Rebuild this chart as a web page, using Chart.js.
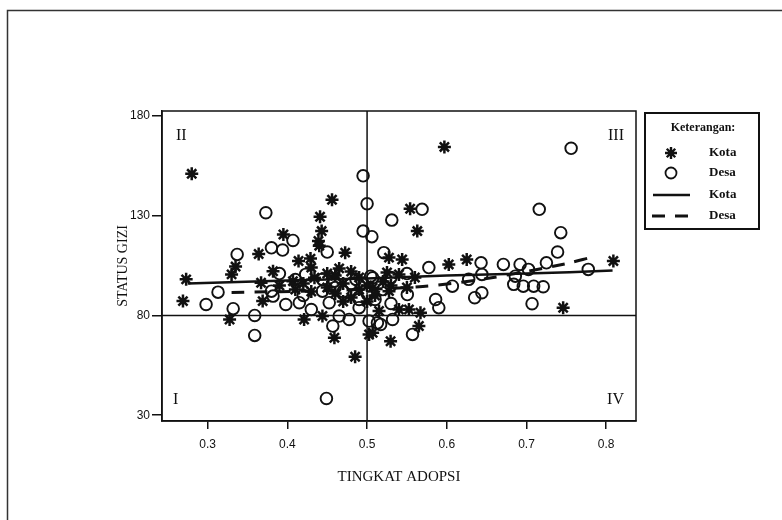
<!DOCTYPE html>
<html>
<head>
<meta charset="utf-8">
<script src="https://cdn.jsdelivr.net/npm/chart.js@4.4.1/dist/chart.umd.min.js"></script>
<style>
  html, body { margin: 0; padding: 0; background: #fff; }
  canvas { display: block; }
</style>
</head>
<body>
<canvas id="gizi" width="782" height="520"></canvas>
<script>
// Data
const kotaX = [0.28, 0.456, 0.441, 0.443, 0.439, 0.44, 0.395, 0.364, 0.4725, 0.414, 0.429, 0.597, 0.554, 0.563,
  0.5275, 0.544, 0.6025, 0.625, 0.809, 0.746, 0.567, 0.565, 0.5295, 0.5525, 0.54, 0.515, 0.507, 0.273, 0.269,
  0.3275, 0.33, 0.335, 0.382, 0.367, 0.369, 0.421, 0.444, 0.459, 0.485, 0.5025, 0.407, 0.434, 0.465, 0.54,
  0.525, 0.507, 0.5275, 0.39, 0.41, 0.42, 0.43, 0.45, 0.46, 0.47, 0.48, 0.49, 0.5, 0.51, 0.46, 0.48, 0.43,
  0.45, 0.47, 0.5, 0.49, 0.52, 0.53, 0.55, 0.56];
const kotaY = [151, 138, 129.5, 122.3, 117.3, 115, 120.6, 110.8, 111.5, 107.3, 108.5, 164.5, 133.5, 122.3,
  109, 108.1, 105.6, 108.1, 107.3, 83.9, 81.4, 74.7, 67.1, 83, 83, 82.2, 71.3, 98.1, 87.2,
  78, 100.6, 104.5, 102.2, 96.4, 87.2, 78, 79.7, 68.8, 59.3, 70.5, 97.2, 98.9, 103.6, 100.6,
  101.5, 93.9, 92.2, 95, 93, 96, 92, 94, 91, 96, 89, 93, 95, 90, 100, 102, 104,
  101, 87, 87, 99, 97, 95, 94, 99];

const desaX = [0.373, 0.495, 0.5, 0.495, 0.506, 0.407, 0.394, 0.38, 0.337, 0.45, 0.756, 0.569, 0.531, 0.716,
  0.743, 0.739, 0.521, 0.5775, 0.643, 0.671, 0.692, 0.725, 0.7775, 0.644, 0.6275, 0.7025, 0.686, 0.684,
  0.696, 0.709, 0.721, 0.707, 0.635, 0.644, 0.586, 0.59, 0.607, 0.5505, 0.557, 0.532, 0.517, 0.298, 0.313,
  0.332, 0.359, 0.359, 0.38, 0.398, 0.415, 0.423, 0.43, 0.457, 0.465, 0.4775, 0.449, 0.5025, 0.486, 0.5045,
  0.444, 0.459, 0.444, 0.4525, 0.49, 0.382, 0.507, 0.513, 0.42, 0.46, 0.47, 0.48, 0.5, 0.51, 0.52, 0.53,
  0.49, 0.41, 0.39, 0.53, 0.55];
const desaY = [131.5, 150, 136, 122.3, 119.5, 117.6, 112.8, 113.9, 110.6, 111.8, 163.8, 133.2, 127.8, 133.2,
  121.5, 111.8, 111.5, 104, 106.4, 105.6, 105.6, 106.4, 103.1, 100.6, 98.1, 103.1, 99.7, 95.6,
  94.7, 94.7, 94.4, 85.9, 88.9, 91.4, 88, 83.9, 94.7, 90.5, 70.5, 78, 75.5, 85.5, 91.7,
  83.4, 80, 70, 92.2, 85.5, 86.4, 100.6, 83, 74.7, 79.7, 78, 38.4, 77.2, 98.1, 99.7,
  98.1, 97.2, 92.2, 86.4, 83.9, 89.7, 98.9, 76.3, 90, 94, 92, 96, 91, 88, 93, 86,
  88, 98, 101, 99, 101];

// garis kecenderungan
const kotaFitX = [0.275, 0.4, 0.5, 0.6, 0.7, 0.808];
const kotaFitY = [96, 97.5, 98.5, 100, 101, 102.5];
const desaFitX = [0.33, 0.45, 0.57, 0.65, 0.75, 0.78];
const desaFitY = [91.5, 92.5, 94.5, 98.5, 106, 109];

const xTicks = [0.3, 0.4, 0.5, 0.6, 0.7, 0.8];
const yTicks = [30, 80, 130, 180];
const batasX = 0.5;
const batasY = 80;

const toPts = (xs, ys) => xs.map((x, i) => ({ x: x, y: ys[i] }));
const serif = '"Liberation Serif", "Times New Roman", serif';

Chart.defaults.font.family = '"Liberation Sans", Arial, sans-serif';
Chart.defaults.color = '#111';

// garis kuadran, angka romawi, bingkai dan keterangan
const hiasan = {
  id: 'hiasan',
  beforeDatasetsDraw(chart) {
    const { ctx, chartArea: a, scales } = chart;
    const px = scales.x.getPixelForValue(batasX);
    const py = scales.y.getPixelForValue(batasY);
    ctx.save();
    ctx.strokeStyle = '#111';
    ctx.lineWidth = 1.5;
    ctx.beginPath();
    ctx.moveTo(px, a.top); ctx.lineTo(px, a.bottom);
    ctx.moveTo(a.left, py); ctx.lineTo(a.right, py);
    ctx.stroke();
    ctx.font = '16px ' + serif;
    ctx.fillStyle = '#111';
    ctx.textBaseline = 'middle';
    ctx.textAlign = 'left';
    ctx.fillText('II', a.left + 14, a.top + 25);
    ctx.fillText('I', a.left + 11, a.bottom - 21);
    ctx.textAlign = 'right';
    ctx.fillText('III', a.right - 12, a.top + 25);
    ctx.fillText('IV', a.right - 12, a.bottom - 21);
    ctx.restore();
  },
  afterDraw(chart) {
    const { ctx, chartArea: a } = chart;
    ctx.save();
    ctx.strokeStyle = '#111';
    ctx.lineWidth = 1.5;
    ctx.strokeRect(a.left, a.top, a.right - a.left, a.bottom - a.top);
    // bingkai luar
    ctx.strokeStyle = '#333';
    ctx.beginPath();
    ctx.moveTo(7.5, 520); ctx.lineTo(7.5, 10.5); ctx.lineTo(782, 10.5);
    ctx.stroke();
    // keterangan
    ctx.lineWidth = 2;
    ctx.strokeStyle = '#111';
    ctx.strokeRect(645, 113, 114, 116);
    ctx.fillStyle = '#111';
    ctx.font = 'bold 12px ' + serif;
    ctx.textAlign = 'center';
    ctx.textBaseline = 'middle';
    ctx.fillText('Keterangan:', 703, 128);
    ctx.textAlign = 'left';
    ctx.font = 'bold 13px ' + serif;
    ['Kota', 'Desa', 'Kota', 'Desa'].forEach((t, i) => ctx.fillText(t, 709, [153, 173, 195, 216][i]));
    ctx.lineWidth = 2.4;
    Chart.helpers.drawPoint(ctx, { pointStyle: 'star', radius: 6, borderWidth: 2.4 }, 671, 153);
    ctx.fillStyle = '#fff';
    ctx.lineWidth = 1.8;
    Chart.helpers.drawPoint(ctx, { pointStyle: 'circle', radius: 5.5, borderWidth: 1.8 }, 671, 173);
    ctx.lineWidth = 2.5;
    ctx.beginPath();
    ctx.moveTo(653, 195); ctx.lineTo(690, 195);
    ctx.stroke();
    ctx.lineWidth = 3;
    ctx.setLineDash([13, 10]);
    ctx.beginPath();
    ctx.moveTo(652, 216); ctx.lineTo(692, 216);
    ctx.stroke();
    ctx.restore();
  }
};

const chart = new Chart(document.getElementById('gizi'), {
  type: 'scatter',
  data: {
    datasets: [
      {
        type: 'line', label: 'Kota', data: toPts(kotaFitX, kotaFitY), showLine: true,
        borderColor: '#111', borderWidth: 2.5, pointRadius: 0, fill: false, tension: 0.3
      },
      {
        type: 'line', label: 'Desa', data: toPts(desaFitX, desaFitY), showLine: true,
        borderColor: '#111', borderWidth: 3, borderDash: [13, 10], pointRadius: 0, fill: false, tension: 0.3
      },
      {
        label: 'Kota', data: toPts(kotaX, kotaY), pointStyle: 'star', pointRadius: 6.5,
        borderColor: '#111', backgroundColor: '#111', pointBorderWidth: 2.5
      },
      {
        label: 'Desa', data: toPts(desaX, desaY), pointStyle: 'circle', pointRadius: 5.8,
        borderColor: '#111', backgroundColor: 'rgba(0,0,0,0)', pointBorderWidth: 1.9
      }
    ]
  },
  options: {
    responsive: false,
    animation: false,
    devicePixelRatio: 1,
    layout: { padding: { top: 111, right: 146, bottom: 0, left: 0 } },
    plugins: { legend: { display: false }, tooltip: { enabled: false } },
    scales: {
      x: {
        type: 'linear', min: 0.2427, max: 0.8374,
        afterBuildTicks: s => { s.ticks = xTicks.map(v => ({ value: v })); },
        afterFit: s => { s.height = 99; },
        ticks: { callback: v => v.toFixed(1), font: { size: 12 }, color: '#111', padding: 8 },
        grid: { drawOnChartArea: false, tickLength: 8, color: '#111', lineWidth: 1.5 },
        border: { display: true, color: '#111', width: 1.5 },
        title: { display: true, text: 'TINGKAT ADOPSI', color: '#111',
                 font: { family: serif, size: 15 }, padding: { top: 34, bottom: 34 } }
      },
      y: {
        type: 'linear', min: 27.1, max: 182.5,
        afterBuildTicks: s => { s.ticks = yTicks.map(v => ({ value: v })); },
        afterFit: s => { s.width = 162; },
        ticks: { font: { size: 12 }, color: '#111', padding: 2 },
        grid: { drawOnChartArea: false, tickLength: 10, color: '#111', lineWidth: 1.5 },
        border: { display: true, color: '#111', width: 1.5 },
        title: { display: true, text: 'STATUS GIZI', color: '#111',
                 font: { family: serif, size: 14 }, padding: { top: 115, bottom: 115 } }
      }
    }
  },
  plugins: [hiasan]
});
</script>
</body>
</html>
